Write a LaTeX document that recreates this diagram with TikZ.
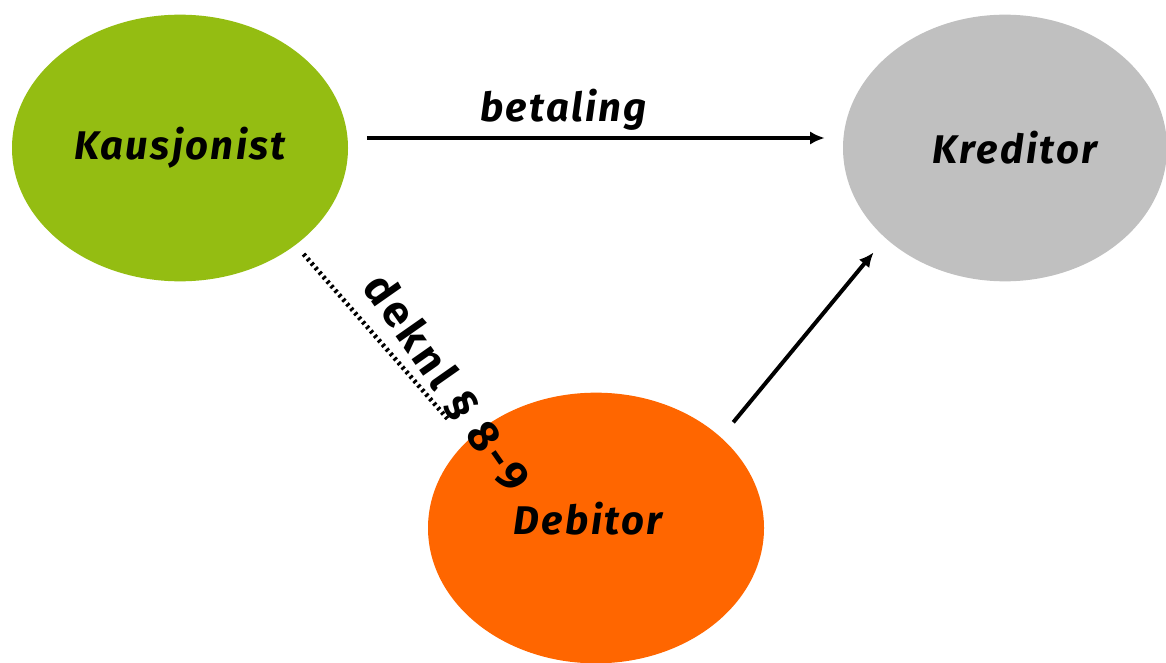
\documentclass[tikz,border=0pt]{standalone}
\usepackage{fontspec}
\setmainfont{Fira Sans}
\usepackage{xcolor}
\usepackage{tikz}
\usetikzlibrary{shapes.geometric,arrows.meta}
\definecolor{kausgreen}{RGB}{148,189,18}
\definecolor{kredgray}{RGB}{192,192,192}
\definecolor{deborange}{RGB}{255,102,0}
\newcommand{\partyfont}{\fontsize{30}{34}\selectfont\bfseries\itshape\addfontfeatures{LetterSpace=6}}
\tikzset{party/.style={ellipse, draw=none, inner sep=0pt, minimum width=252pt, minimum height=200pt,
    font=\partyfont},
  payarrow/.style={line width=3pt, -{Latex[length=11pt,width=10pt]}}}

\begin{document}
\begin{tikzpicture}[x=0.75pt,y=-0.75pt]
   \useasboundingbox (0,0) rectangle (1166,663);
   \node[party, fill=kausgreen] (kaus) at (180,148) {Kausjonist};
   \node[party, fill=kredgray, minimum width=243pt] (kred) at (1005,148) {\hspace*{15pt}Kreditor};
   \node[party, fill=deborange, minimum height=203pt] (deb) at (596,528) {Debitor\hspace*{12pt}\rule[-14pt]{0pt}{0pt}};
   \draw[payarrow, shorten <=14pt, shorten >=13.5pt] ([yshift=7.5pt]kaus.east) -- ([yshift=7.5pt]kred.west)
      node[midway, above=1pt, xshift=-24pt, font=\partyfont] (betal) {betaling};
   \draw[payarrow, shorten <=14.5pt, shorten >=13.8pt] (deb.36) -- (kred.217);
   \draw[line width=3.5pt, dash pattern=on 2pt off 2.5pt, shorten <=9pt, shorten >=22pt] (kaus.-40) -- (deb.146);
   \node[rotate=-55, font=\fontsize{33}{36}\selectfont\bfseries\addfontfeatures{LetterSpace=8}] (lov) at (447,383) {deknl § 8-9};
\end{tikzpicture}
\end{document}
